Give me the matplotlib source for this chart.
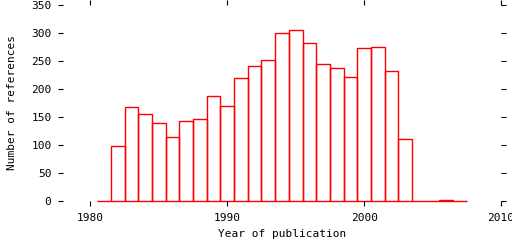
import matplotlib
matplotlib.use("Agg")
import matplotlib.pyplot as plt

years = list(range(1981, 2008))
counts = [0, 98, 167, 155, 139, 115, 142, 146, 187, 169, 219, 241, 251,
          299, 304, 281, 244, 237, 221, 272, 274, 231, 110, 0, 0, 2, 0]

xticks = [1980, 1990, 2000, 2010]
yticks = [0, 50, 100, 150, 200, 250, 300, 350]

plt.rcParams['font.family'] = ['DejaVu Sans Mono']

fig = plt.figure(figsize=(5.12, 2.4), dpi=100)
ax = fig.add_axes([63/512, 1-201/240, (501-63)/512, (201-4.7)/240])

bars = ax.bar(years, counts, width=1.0, fill=False, edgecolor='#ff0000', linewidth=1.0)
for b in bars:
    b.set_clip_on(False)

ax.set_xlim(1978, 2010)
ax.set_ylim(0, 350)
ax.set_xticks(xticks)
ax.set_yticks(yticks)
for s in ax.spines.values():
    s.set_visible(False)
ax.tick_params(direction='out', length=3.3, width=0.8, top=True, right=True,
               labeltop=False, labelright=False, labelsize=8, pad=5)
ax.set_xlabel('Year of publication', fontsize=8, labelpad=4.5)
ax.set_ylabel('Number of references', fontsize=8, labelpad=10)

fig.savefig('out.png', dpi=100)
